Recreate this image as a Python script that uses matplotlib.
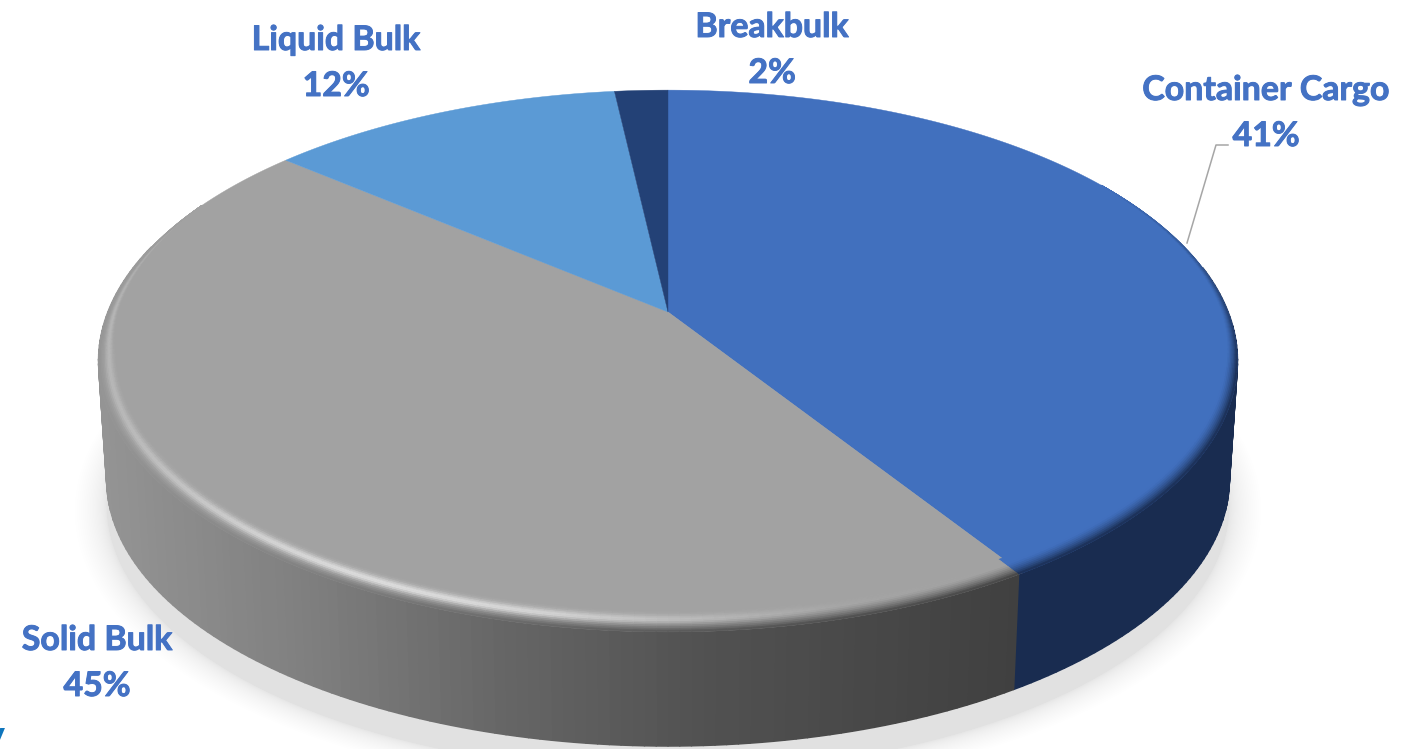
"""Cargo share pie with a tilted, bevelled 3D look, drawn in pixel coordinates."""
import numpy as np
import matplotlib
matplotlib.use('Agg')
import matplotlib.pyplot as plt
import matplotlib.patheffects as pe
from matplotlib.collections import PolyCollection
from matplotlib.colors import to_rgb

categories = ["Container Cargo", "Solid Bulk", "Liquid Bulk", "Breakbulk"]
shares = [41.0, 45.2, 12.0, 1.8]
top_colors = ["#4170BE", "#A2A2A2", "#5B9AD5", "#234176"]
label_x = [1266, 97, 336, 772]
label_y = [90, 640, 40, 27]

WIDTH, HEIGHT = 1408, 749
TEXT_BLUE = "#4472C4"
BLUE_WALL = "#192C50"
CX = 668
TOP_Y0, TOP_A, TOP_B = 312, 560, 262
BOT_Y0, BOT_A, BOT_B = 431, 552, 258
PERSP = 0.1808

# wall shading of the grey slice, left to right
WALL_X = [100, 300, 500, 700, 900, 1020]
WALL_GREY = [0.58, 0.50, 0.40, 0.32, 0.275, 0.25]


def project(theta, r, y0, a, b):
    """Angle in degrees clockwise from 12 o'clock -> pixel position."""
    t = np.radians(theta)
    w = 1 + PERSP * r * np.cos(t)
    return CX + a * r * np.sin(t) / w, y0 - b * r * np.cos(t) / w


def top_pt(theta, r=1.0):
    return project(theta, r, TOP_Y0, TOP_A, TOP_B)


def bot_pt(theta, r=1.0):
    return project(theta, r, BOT_Y0, BOT_A, BOT_B)


def wall_color(theta, is_blue):
    if is_blue:
        return np.array(to_rgb(BLUE_WALL))
    x, _ = top_pt(theta)
    return np.full(3, np.interp(x, WALL_X, WALL_GREY))


fig = plt.figure(figsize=(WIDTH / 100, HEIGHT / 100), dpi=100)
ax = fig.add_axes([0, 0, 1, 1])
ax.set_xlim(0, WIDTH)
ax.set_ylim(HEIGHT, 0)
ax.axis('off')

edges = np.cumsum([0] + shares) / sum(shares) * 360

# soft shadow under the disc, denser towards the wall
full = np.arange(0, 361, 2.0)
for t in np.linspace(1, 0, 30):
    x, y = project(full, 1 + 0.055 * t ** 2, BOT_Y0 + 26, BOT_A, BOT_B)
    ax.fill(x, y, color='black', alpha=0.0052, lw=0, zorder=1)

# side wall, strip by strip
polys, cols = [], []
for th in np.arange(80, 285, 1.0):
    x0, y0 = top_pt(th)
    x1, y1 = top_pt(th + 1)
    x2, y2 = bot_pt(th + 1)
    x3, y3 = bot_pt(th)
    polys.append([(x0, y0), (x1, y1), (x2, y2), (x3, y3)])
    cols.append(wall_color(th + 0.5, th + 0.5 < edges[1]))
ax.add_collection(PolyCollection(polys, facecolors=cols, edgecolors='face',
                                 linewidths=1.2, zorder=2))

# flat top slices
for i, color in enumerate(top_colors):
    th = np.linspace(edges[i], edges[i + 1], 200)
    x, y = top_pt(th)
    ax.fill(np.r_[CX, x], np.r_[TOP_Y0, y], color=color, lw=0.3, zorder=3)

# bevel around the front rim, fading out towards the back
polys, cols = [], []
n_band = 12
for th in np.arange(58, 296, 1.0):
    mid = th + 0.5
    weight = np.clip(min((mid - 58) / 45, (296 - mid) / 35), 0, 1)
    width = weight * (0.025 + 0.028 * max(0, -np.cos(np.radians(mid))))
    idx = np.searchsorted(edges, mid) - 1
    top = np.array(to_rgb(top_colors[idx]))
    wall = wall_color(mid, idx == 0)
    glow = 0.0
    if idx == 1:
        glow = 0.22 * np.clip((mid - 165) / 25, 0, 1) * np.clip((300 - mid) / 30, 0, 1)
        glow += 0.42 * np.exp(-((mid - 205) / 28) ** 2)
    for b in range(n_band):
        r0 = 1 - width * (1 - b / n_band)
        r1 = 1 - width * (1 - (b + 1) / n_band)
        u = (b + 0.5) / n_band
        mix = weight * np.clip((u - 0.35) / 0.65, 0, 1) ** 1.5
        c = top + (wall - top) * mix
        c = c + (1 - c) * glow * np.exp(-((u - 0.42) / 0.22) ** 2)
        polys.append([top_pt(th, r0), top_pt(th + 1, r0), top_pt(th + 1, r1), top_pt(th, r1)])
        cols.append(c)
ax.add_collection(PolyCollection(polys, facecolors=cols, edgecolors='face',
                                 linewidths=0.5, zorder=4))

# labels
for name, share, lx, ly in zip(categories, shares, label_x, label_y):
    for txt, yy in ((name, ly), (f"{round(share)}%", ly + 46)):
        ax.text(lx, yy, txt, ha='center', va='center', family='Lato',
                fontweight='bold', fontsize=24.4, color=TEXT_BLUE, zorder=6,
                path_effects=[pe.withStroke(linewidth=0.7, foreground=TEXT_BLUE)])

# leader line of the container label
ax.plot([1187, 1216, 1228], [243, 145, 145], color='#A6A6A6', lw=1.1, zorder=5)

# clipped letter at the lower left corner
ax.text(5, 738, "y", ha='right', va='center', family='Lato', fontweight='bold',
        fontsize=30, color='#0F75BC', zorder=6)

plt.savefig('out.png', dpi=100)
plt.close(fig)
